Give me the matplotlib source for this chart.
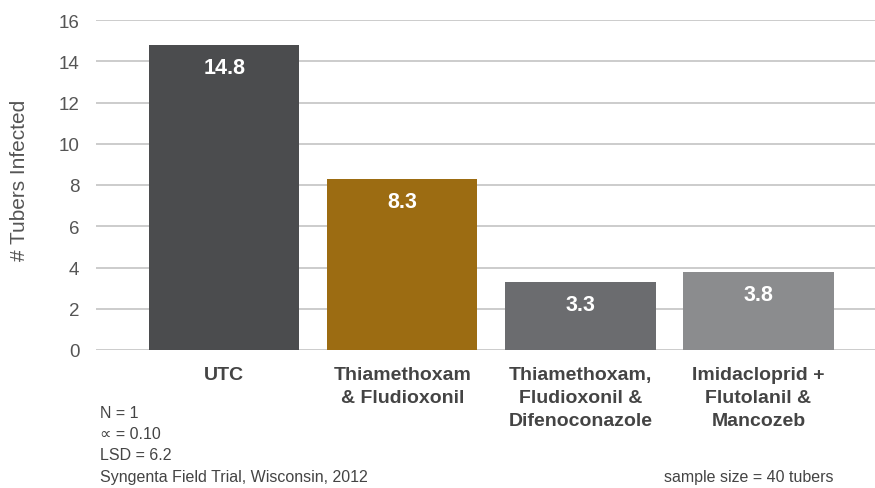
import matplotlib
matplotlib.use("Agg")
import matplotlib.pyplot as plt

plt.rcParams["font.family"] = ["Liberation Sans", "DejaVu Sans"]

# Data
categories = ["UTC", "Thiamethoxam\n& Fludioxonil",
              "Thiamethoxam,\nFludioxonil &\nDifenoconazole",
              "Imidacloprid +\nFlutolanil &\nMancozeb"]
values = [14.8, 8.3, 3.3, 3.8]
colors = ["#4b4c4e", "#9c6c12", "#6b6c6f", "#8b8c8e"]
yticks = [0, 2, 4, 6, 8, 10, 12, 14, 16]
notes = ["N = 1", "\u221d = 0.10", "LSD = 6.2", "Syngenta Field Trial, Wisconsin, 2012"]

fig = plt.figure(figsize=(8.75, 4.89), dpi=100)
ax = fig.add_axes([96 / 875, 1 - 351 / 489, 1 - 96 / 875, 330 / 489])

x = range(len(values))
bars = ax.bar(x, values, width=0.845, color=colors, zorder=3)
for b, v in zip(bars, values):
    ax.text(b.get_x() + b.get_width() / 2, v - 0.6, f"{v:.1f}",
            ha="center", va="top", color="white", fontsize=15.5, fontweight="bold", zorder=4)

ax.set_xlim(-0.72, 3.655)
ax.set_ylim(0, 16)
ax.set_yticks(yticks)
ax.yaxis.grid(True, color="#c8c8c8", linewidth=1.3, zorder=0)
ax.tick_params(axis="y", length=0, pad=12, labelsize=13.5, labelcolor="#555555")
ax.set_xticks([])
for s in ax.spines.values():
    s.set_visible(False)

for i, c in enumerate(categories):
    ax.text(i, -0.8, c, ha="center", va="top", fontsize=14, fontweight="bold",
            color="#444444", linespacing=1.45)

fig.text(20 / 875, 1 - 180 / 489, "# Tubers Infected", rotation=90, ha="center",
         va="center", fontsize=15, color="#555555")

for i, n in enumerate(notes):
    fig.text(100 / 875, 1 - (413 + i * 21.5) / 489, n, ha="left", va="center",
             fontsize=11.5, color="#444444")
fig.text(833 / 875, 1 - 477.5 / 489, "sample size = 40 tubers", ha="right", va="center",
         fontsize=11.5, color="#444444")

fig.savefig("out.png", dpi=100)
